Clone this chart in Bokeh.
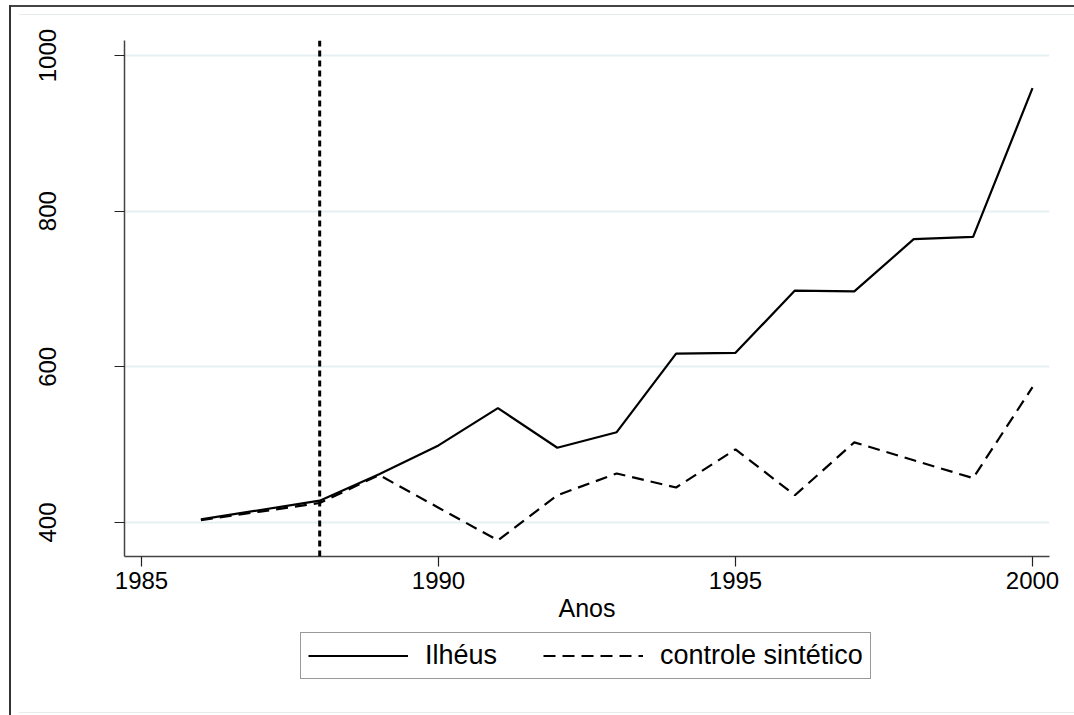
from bokeh.plotting import figure
from bokeh.layouts import column
from bokeh.models import Range1d, Legend, LegendItem, Span, FixedTicker
from bokeh.embed import file_html
from bokeh.resources import INLINE

years = [1986, 1987, 1988, 1989, 1990, 1991, 1992, 1993, 1994, 1995, 1996, 1997, 1998, 1999, 2000]
ilheus = [404, 416, 428, 462, 499, 547, 496, 516, 617, 618, 698, 697, 764, 767, 958]
sintetico = [403, 414, 425, 461, 419, 377, 435, 463, 445, 494, 435, 503, 480, 457, 574]
x_ticks = [1985, 1990, 1995, 2000]
y_ticks = [400, 600, 800, 1000]
treat_year = 1988
series_names = ["Ilhéus", "controle sintético"]
x_title = "Anos"

FONT = "Liberation Sans"
SOLID = dict(line_color="black", line_width=2.2)
DASHED = dict(line_color="black", line_width=2.2, line_dash="12 7")

fig = figure(width=1074, height=630, output_backend="svg", toolbar_location=None,
             x_range=Range1d(1984.714, 2000.286), y_range=Range1d(356.3, 1019.3),
             min_border_left=124, min_border_right=25, min_border_top=40, min_border_bottom=74)
fig.background_fill_color = "white"
fig.border_fill_color = None
fig.outline_line_color = None

fig.xgrid.grid_line_color = None
fig.ygrid.grid_line_color = "#e6eff1"
fig.ygrid.grid_line_width = 2
fig.ygrid.ticker = FixedTicker(ticks=y_ticks)

for ax in (fig.xaxis[0], fig.yaxis[0]):
    ax.axis_line_color = "#444444"
    ax.axis_line_width = 1.5
    ax.major_tick_line_color = "#222222"
    ax.major_tick_line_width = 1.2
    ax.major_tick_in = 0
    ax.major_tick_out = 10
    ax.minor_tick_line_color = None
    ax.major_label_text_font = FONT
    ax.major_label_text_font_size = "24px"
    ax.major_label_text_color = "black"

fig.xaxis.ticker = FixedTicker(ticks=x_ticks)
fig.yaxis.ticker = FixedTicker(ticks=y_ticks)
fig.yaxis.major_label_orientation = "vertical"
fig.yaxis.major_label_standoff = 58
fig.xaxis.major_label_standoff = 5
fig.xaxis.axis_label = x_title
fig.xaxis.axis_label_text_font = FONT
fig.xaxis.axis_label_text_font_size = "25px"
fig.xaxis.axis_label_text_font_style = "normal"
fig.xaxis.axis_label_text_color = "black"
fig.xaxis.axis_label_standoff = 2

fig.add_layout(Span(location=treat_year, dimension="height", line_color="black",
                    line_width=3, line_dash="6 4"))

fig.line(years, ilheus, **SOLID)
fig.line(years, sintetico, **DASHED)

# legend strip below the chart (its glyph lines lie outside the strip's visible range)
leg = figure(width=1074, height=85, output_backend="svg", toolbar_location=None,
             x_range=Range1d(0, 1), y_range=Range1d(0, 1), min_border=0,
             x_axis_location=None, y_axis_location=None)
leg.grid.visible = False
leg.outline_line_color = None
leg.background_fill_color = None
leg.border_fill_color = None
g1 = leg.line([5, 6], [5, 6], **SOLID)
g2 = leg.line([5, 6], [5, 6], **DASHED)

legend = Legend(items=[LegendItem(label=series_names[0], renderers=[g1]),
                       LegendItem(label=series_names[1], renderers=[g2])],
                orientation="horizontal", location=(176, 36))
legend.label_text_font = FONT
legend.label_text_font_size = "27px"
legend.label_text_color = "black"
legend.glyph_width = 100
legend.glyph_height = 21
legend.label_height = 21
legend.label_standoff = 17
legend.spacing = 46
legend.padding = 7
legend.margin = 0
legend.border_line_color = "#333333"
legend.border_line_width = 1.2
legend.background_fill_color = "white"
leg.add_layout(legend)

p = column(fig, leg, spacing=0)
p.styles = {
    "background-image": "linear-gradient(#333,#333), linear-gradient(#444,#444), "
                        "linear-gradient(#e6ecee,#e6ecee), linear-gradient(#e6ecee,#e6ecee)",
    "background-size": "2px 100%, 100% 2px, 100% 1px, 100% 1px",
    "background-position": "9px 5px, 9px 5px, 19px 14px, 19px 712px",
    "background-repeat": "no-repeat",
}

open("out.html", "w").write(file_html(p, INLINE))
